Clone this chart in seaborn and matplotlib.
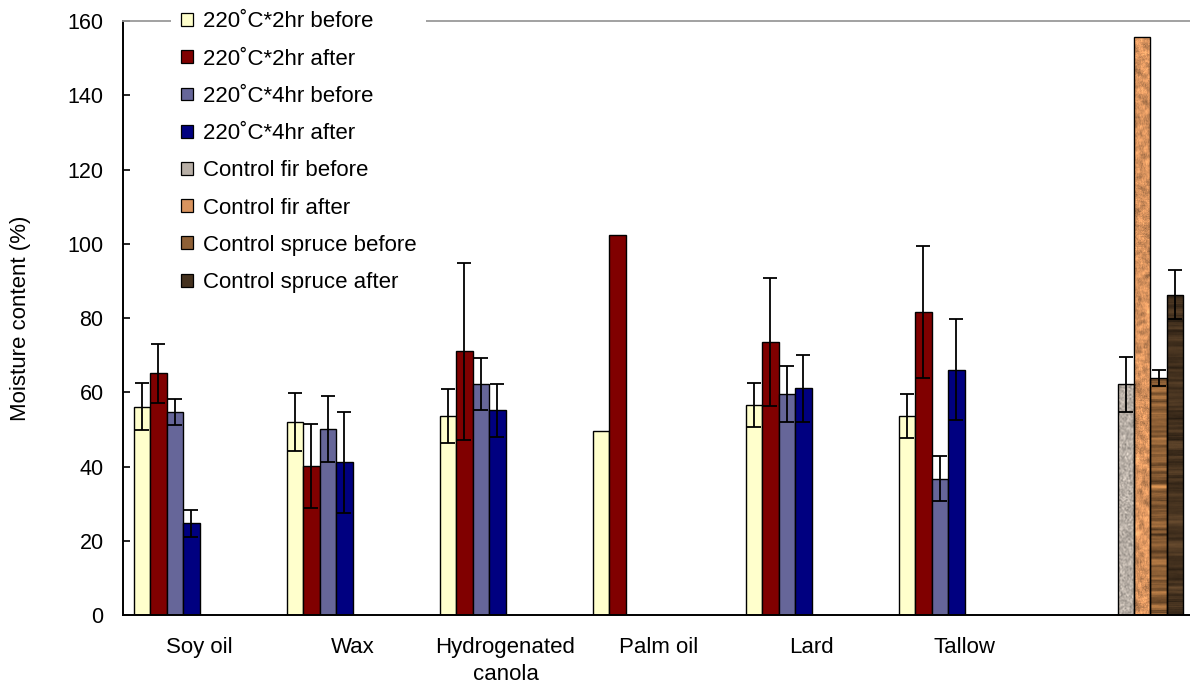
import numpy as np
import pandas as pd
import matplotlib
matplotlib.use("Agg")
import matplotlib.pyplot as plt
from matplotlib.patches import Patch
import seaborn as sns

nan = np.nan

# categories along the x axis (last group holds the untreated controls)
categories = ["Soy oil", "Wax", "Hydrogenated\ncanola", "Palm oil", "Lard", "Tallow", " "]

series_names = [
    "220˚C*2hr before",
    "220˚C*2hr after",
    "220˚C*4hr before",
    "220˚C*4hr after",
    "Control fir before",
    "Control fir after",
    "Control spruce before",
    "Control spruce after",
]

# moisture content (%)
before_2hr = [56.1, 52.1, 53.6, 49.6, 56.6, 53.6, nan]
after_2hr = [65.1, 40.1, 71.0, 102.4, 73.5, 81.6, nan]
before_4hr = [54.6, 50.1, 62.1, nan, 59.6, 36.7, nan]
after_4hr = [24.7, 41.1, 55.1, nan, 61.1, 66.1, nan]
fir_before = [nan, nan, nan, nan, nan, nan, 62.1]
fir_after = [nan, nan, nan, nan, nan, nan, 155.6]
spruce_before = [nan, nan, nan, nan, nan, nan, 63.9]
spruce_after = [nan, nan, nan, nan, nan, nan, 86.3]

# error bar half-widths
err_before_2hr = [6.3, 7.8, 7.3, nan, 5.9, 5.8, nan]
err_after_2hr = [7.9, 11.3, 23.9, nan, 17.3, 17.7, nan]
err_before_4hr = [3.5, 8.8, 7.0, nan, 7.5, 6.0, nan]
err_after_4hr = [3.7, 13.7, 7.2, nan, 9.0, 13.5, nan]
err_fir_before = [nan, nan, nan, nan, nan, nan, 7.5]
err_fir_after = [nan, nan, nan, nan, nan, nan, nan]
err_spruce_before = [nan, nan, nan, nan, nan, nan, 2.2]
err_spruce_after = [nan, nan, nan, nan, nan, nan, 6.7]

values = [before_2hr, after_2hr, before_4hr, after_4hr,
          fir_before, fir_after, spruce_before, spruce_after]
errors = [err_before_2hr, err_after_2hr, err_before_4hr, err_after_4hr,
          err_fir_before, err_fir_after, err_spruce_before, err_spruce_after]

colors = ["#FFFFCC", "#800000", "#666699", "#000080",
          "#B8AFA6", "#D8935E", "#8E6036", "#45321F"]
textures = [None, None, None, None, "granite", "cork", "wood", "wood"]

rows = []
for name, vals in zip(series_names, values):
    for cat, v in zip(categories, vals):
        rows.append({"category": cat, "series": name, "value": v})
df = pd.DataFrame(rows)

sns.set_style("white")
plt.rcParams["font.family"] = ["Liberation Sans", "DejaVu Sans"]
plt.rcParams["text.color"] = "black"
plt.rcParams["axes.labelcolor"] = "black"
plt.rcParams["xtick.color"] = "black"
plt.rcParams["ytick.color"] = "black"

fig = plt.figure(figsize=(11.9, 6.87), dpi=100)
# the plot area runs slightly past the right edge of the image, as in the original
ax = fig.add_axes([0.1034, 0.1048, 0.9, 0.8646])

sns.barplot(data=df, x="category", y="value", hue="series",
            order=categories, hue_order=series_names,
            palette=dict(zip(series_names, colors)), saturation=1,
            width=0.86, errorbar=None, edgecolor="black", linewidth=1.0,
            legend=False, ax=ax)

rng = np.random.default_rng(11)


def smooth(a, k, axis):
    kern = np.ones(k) / k
    return np.apply_along_axis(lambda v: np.convolve(v, kern, mode="same"), axis, a)


def make_texture(kind, base, nrows, ncols):
    base = np.array(matplotlib.colors.to_rgb(base))
    if kind == "granite":
        n = rng.normal(0, 1, (nrows, ncols))
        n = smooth(smooth(n, 2, 0), 2, 1)
        shade = 1 + 0.16 * n
    elif kind == "cork":
        coarse = smooth(smooth(rng.normal(0, 1, (nrows, ncols)), 5, 0), 5, 1)
        fine = rng.normal(0, 1, (nrows, ncols))
        shade = 1 + 0.45 * coarse + 0.05 * fine
    else:
        streak = smooth(rng.normal(0, 1, (nrows, 1)), 3, 0)
        drift = smooth(rng.normal(0, 1, (nrows, ncols)), 9, 1)
        shade = 1 + 0.30 * streak + 0.10 * drift
    return np.clip(base[None, None, :] * shade[:, :, None], 0, 1)


bar_containers = list(ax.containers)
for i, cont in enumerate(bar_containers):
    errs = errors[i]
    for bar in cont:
        h = bar.get_height()
        if np.isnan(h):
            continue
        xc = bar.get_x() + bar.get_width() / 2
        ci = int(round(xc))
        if textures[i] is not None:
            img = make_texture(textures[i], colors[i], max(int(h * 3.7), 4), 17)
            im = ax.imshow(img, extent=(bar.get_x(), bar.get_x() + bar.get_width(), 0, h),
                           origin="lower", aspect="auto", interpolation="bilinear",
                           zorder=0.9)
            im.set_clip_path(bar)
            bar.set_facecolor("none")
        if not np.isnan(errs[ci]):
            ax.errorbar(xc, h, yerr=errs[ci], fmt="none", ecolor="black",
                        elinewidth=1.3, capsize=4.8, capthick=1.3, zorder=3)

ax.set_xlim(-0.5, 6.5)
ax.set_ylim(0, 160)
ax.set_yticks(range(0, 161, 20))
ax.set_xlabel("")
ax.set_ylabel("Moisture content (%)", fontsize=16)
ax.yaxis.set_label_coords(-0.086, 0.5)

ax.tick_params(axis="y", direction="in", length=5, width=1.2, color="black",
               labelsize=15.5, pad=14, left=True)
ax.tick_params(axis="x", length=0, labelsize=16, pad=16)
for lab in ax.get_xticklabels():
    lab.set_linespacing(1.35)

ax.spines["right"].set_visible(False)
ax.spines["top"].set_color("#9a9a9a")
ax.spines["top"].set_linewidth(1.3)
for s in ["left", "bottom"]:
    ax.spines[s].set_color("black")
    ax.spines[s].set_linewidth(1.4)

handles = [Patch(facecolor=c, edgecolor="black", linewidth=0.9, label=n)
           for n, c in zip(series_names, colors)]
ax.legend(handles=handles, loc="upper left", bbox_to_anchor=(0.0448, 1.033),
          frameon=True, fancybox=False, framealpha=1, edgecolor="none",
          facecolor="white", fontsize=16, handlelength=0.52, handleheight=0.52,
          handletextpad=0.45, labelspacing=0.73, borderpad=0.45, borderaxespad=0)

fig.savefig("out.png", dpi=100)
